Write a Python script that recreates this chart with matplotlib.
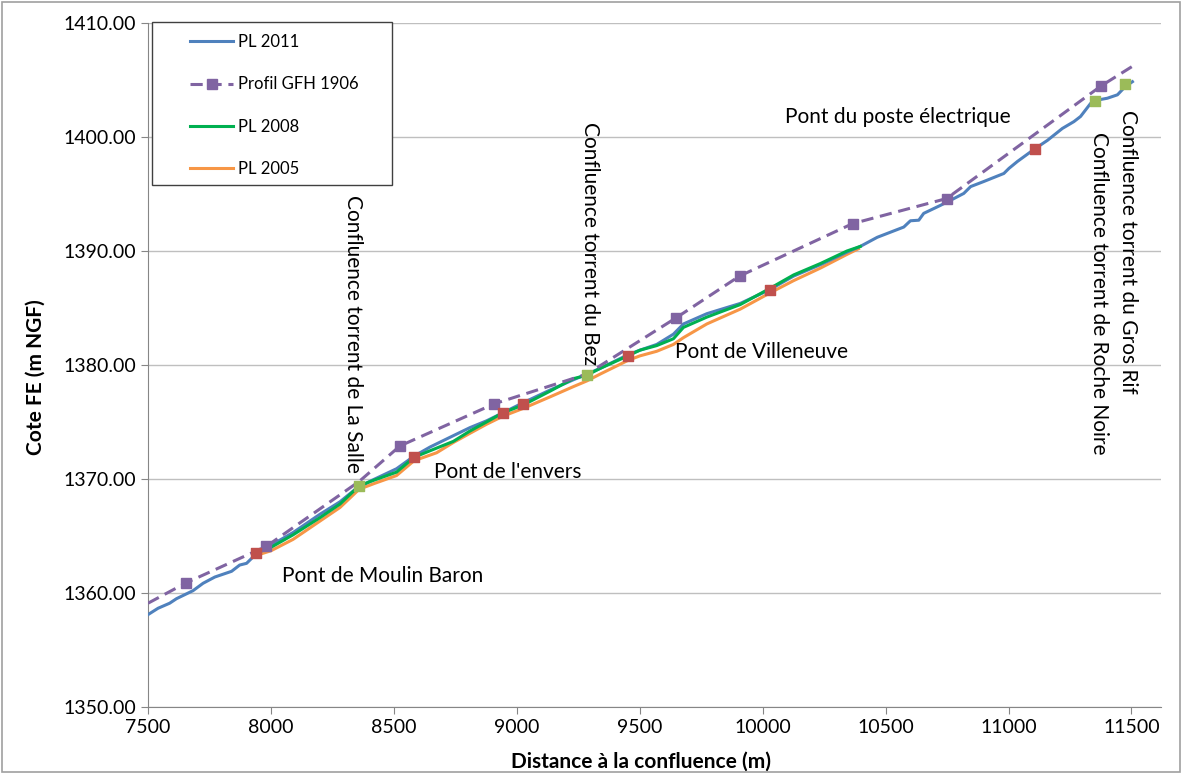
import matplotlib
matplotlib.use("Agg")
import matplotlib.pyplot as plt
from matplotlib.patches import Rectangle

plt.rcParams['font.family'] = ['Lato', 'DejaVu Sans']

# Ligne d'eau 2011
pl2011_x = [7500, 7541, 7588, 7616, 7683, 7724, 7772, 7840, 7873, 7901, 7934, 7985,
            8090, 8199, 8281, 8349, 8403, 8511, 8582, 8647, 8742, 8809, 8877, 8943,
            9027, 9135, 9230, 9285, 9339, 9452, 9501, 9569, 9637, 9678, 9773, 9909,
            10028, 10126, 10235, 10343, 10397, 10466, 10574, 10601, 10635, 10655, 10723,
            10778, 10818, 10846, 10900, 10981, 11002, 11036, 11106, 11158, 11219, 11266,
            11293, 11334, 11352, 11402, 11443, 11474, 11504]
pl2011_y = [1358.1, 1358.66, 1359.1, 1359.5, 1360.2, 1360.85, 1361.4, 1361.9, 1362.45, 1362.6,
            1363.3, 1364.0, 1365.3, 1366.9, 1368.0, 1369.2, 1369.8, 1370.9, 1372.0, 1372.8,
            1373.8, 1374.5, 1375.1, 1375.8, 1376.7, 1377.8, 1378.7, 1379.2, 1379.7, 1380.9,
            1381.3, 1381.8, 1382.7, 1383.6, 1384.5, 1385.4, 1386.6, 1387.8, 1388.8, 1389.9,
            1390.4, 1391.2, 1392.1, 1392.65, 1392.7, 1393.3, 1394.0, 1394.6, 1395.05, 1395.65,
            1396.1, 1396.8, 1397.25, 1397.85, 1398.95, 1399.7, 1400.75, 1401.35, 1401.8,
            1402.95, 1403.2, 1403.4, 1403.7, 1404.4, 1404.85]

# Profil GFH 1906
gfh_x = [7500, 7656, 7982, 8360, 8525, 8909, 9285, 9649, 9906, 10366, 10748, 11378, 11504]
gfh_y = [1359.1, 1360.9, 1364.1, 1369.8, 1372.9, 1376.6, 1379.2, 1384.15, 1387.8, 1392.4,
         1394.6, 1404.5, 1406.2]
gfh_marks = [1, 2, 4, 5, 7, 8, 9, 10, 11]

# Ligne d'eau 2008
pl2008_x = [7941, 8000, 8090, 8199, 8281, 8359, 8420, 8511, 8582, 8650, 8742, 8809, 8877,
            8943, 9027, 9135, 9230, 9285, 9339, 9452, 9501, 9569, 9637, 9678, 9773, 9909,
            10028, 10126, 10235, 10343, 10397]
pl2008_y = [1363.55, 1364.0, 1365.1, 1366.6, 1367.8, 1369.4, 1369.9, 1370.6, 1371.9, 1372.5,
            1373.3, 1374.2, 1375.0, 1375.8, 1376.5, 1377.7, 1378.8, 1379.1, 1379.7, 1380.8,
            1381.3, 1381.7, 1382.3, 1383.3, 1384.2, 1385.3, 1386.7, 1387.9, 1388.9, 1390.0,
            1390.4]

# Ligne d'eau 2005
pl2005_x = [7941, 8000, 8090, 8199, 8281, 8359, 8420, 8511, 8582, 8674, 8742, 8809, 8877,
            8943, 9027, 9135, 9230, 9285, 9339, 9452, 9501, 9569, 9637, 9678, 9773, 9909,
            10028, 10126, 10235, 10343, 10390]
pl2005_y = [1363.3, 1363.7, 1364.7, 1366.3, 1367.5, 1369.1, 1369.6, 1370.3, 1371.6, 1372.3,
            1373.2, 1374.0, 1374.8, 1375.5, 1376.2, 1377.2, 1378.1, 1378.6, 1379.2, 1380.4,
            1380.8, 1381.2, 1381.8, 1382.4, 1383.6, 1384.9, 1386.3, 1387.4, 1388.5, 1389.7,
            1390.2]

# ponts (rouge) et confluences (vert)
ponts_x = [7941, 8582, 8943, 9027, 9452, 10028, 11106]
ponts_y = [1363.55, 1371.95, 1375.76, 1376.6, 1380.8, 1386.6, 1398.95]
conf_x = [8359, 9285, 11352, 11474]
conf_y = [1369.4, 1379.1, 1403.2, 1404.65]

W, H = 1182, 774
fig = plt.figure(figsize=(W / 100, H / 100), dpi=100)
ax = fig.add_axes([0.1252, 0.0866, 0.857, 0.8837])

ax.plot(pl2011_x, pl2011_y, color="#4F81BD", lw=2.2, label="PL 2011", zorder=3)
ax.plot(gfh_x, gfh_y, color="#8064A2", lw=2.2, ls=(0, (4, 2.2)), marker="s", ms=7,
        markevery=gfh_marks, label="Profil GFH 1906", zorder=4)
ax.plot(pl2008_x, pl2008_y, color="#00B050", lw=2.2, label="PL 2008", zorder=3)
ax.plot(pl2005_x, pl2005_y, color="#F79646", lw=2.2, label="PL 2005", zorder=2)
ax.scatter(ponts_x, ponts_y, marker="s", s=55, color="#C0504D", zorder=5)
ax.scatter(conf_x, conf_y, marker="s", s=55, color="#9BBB59", zorder=5)

ax.set_xlim(7500, 11620)
ax.set_ylim(1350, 1410)
ax.set_xticks(range(7500, 11501, 500))
ax.set_yticks(range(1350, 1411, 10))
ax.set_yticklabels([f"{v:.2f}" for v in range(1350, 1411, 10)])
ax.tick_params(labelsize=14, length=5, color="#868686")
ax.grid(axis="y", color="#BFBFBF", lw=1)
ax.set_axisbelow(True)
for s in ["top", "right"]:
    ax.spines[s].set_visible(False)
for s in ["left", "bottom"]:
    ax.spines[s].set_color("#868686")

ax.set_xlabel("Distance à la confluence (m)", fontsize=15, fontweight="bold")
ax.xaxis.set_label_coords(0.4866, -0.066)
ax.set_ylabel("Cote FE (m NGF)", fontsize=15, fontweight="bold")
ax.yaxis.set_label_coords(-0.101, 0.4825)

txt = dict(fontsize=15, color="black")
ax.text(8044, 1361.5, "Pont de Moulin Baron", ha="left", va="center", **txt)
ax.text(8663, 1370.6, "Pont de l'envers", ha="left", va="center", **txt)
ax.text(9644, 1381.1, "Pont de Villeneuve", ha="left", va="center", **txt)
ax.text(10092, 1401.75, "Pont du poste électrique", ha="left", va="center", **txt)
ax.text(8333, 1394.9, "Confluence torrent de La Salle", rotation=-90, ha="center", va="top", **txt)
ax.text(9298, 1401.3, "Confluence torrent du Bez", rotation=-90, ha="center", va="top", **txt)
ax.text(11367, 1400.4, "Confluence torrent de Roche Noire", rotation=-90, ha="center", va="top", **txt)
ax.text(11485, 1402.4, "Confluence torrent du Gros Rif", rotation=-90, ha="center", va="top", **txt)

# cadre de la légende
ax.add_patch(Rectangle((152 / W, 1 - 185 / H), 240 / W, 163 / H, transform=fig.transFigure,
                       facecolor="white", edgecolor="#404040", lw=1, zorder=6, clip_on=False))
leg = ax.legend(loc="upper left", bbox_to_anchor=(190 / W, 1 - 34 / H),
                bbox_transform=fig.transFigure, fontsize=12, frameon=False,
                handlelength=2.6, handletextpad=0.3, labelspacing=1.58,
                borderpad=0, borderaxespad=0)
leg.set_zorder(7)

fig.add_artist(Rectangle((0.002, 0.002), 0.996, 0.996, transform=fig.transFigure,
                         fill=False, edgecolor="#A0A0A0", lw=1.2))

fig.savefig("out.png", dpi=100)
